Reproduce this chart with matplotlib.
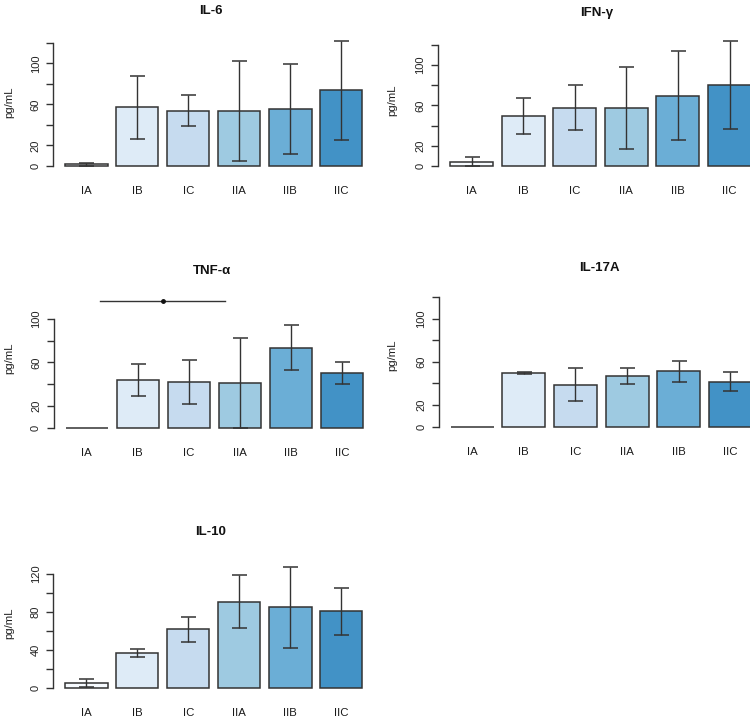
import matplotlib
matplotlib.use("Agg")
import matplotlib.pyplot as plt

plt.rcParams['font.family'] = ['Liberation Sans', 'DejaVu Sans']

groups = ['IA', 'IB', 'IC', 'IIA', 'IIB', 'IIC']
colors = ['#F7FBFF', '#DEEBF7', '#C6DBEF', '#9ECAE1', '#6BAED6', '#4292C6']

il6_mean = [1.6, 57.0, 53.7, 53.7, 55.7, 73.8]
il6_sd = [1.3, 30.5, 15.0, 49.0, 44.0, 48.0]
ifng_mean = [4.3, 49.3, 57.6, 57.6, 69.4, 80.6]
ifng_sd = [4.5, 17.6, 22.2, 40.8, 44.0, 43.6]
tnf_mean = [0.0, 44.0, 41.8, 40.9, 73.8, 50.2]
tnf_sd = [0.0, 15.0, 20.5, 41.5, 21.2, 10.2]
il17_mean = [0.0, 49.8, 38.8, 47.1, 51.4, 41.5]
il17_sd = [0.0, 0.6, 15.3, 7.6, 9.7, 9.0]
il10_mean = [4.9, 36.1, 61.8, 90.9, 84.6, 80.4]
il10_sd = [4.0, 4.2, 13.2, 27.7, 43.2, 24.3]

# significance bar in TNF panel (bar-axis units, value)
tnf_sig_x = [1.0, 3.95]
tnf_sig_y = 117.0
tnf_sig_dot = 2.5

W, H = 750, 719
fig = plt.figure(figsize=(W / 100, H / 100), dpi=100)
fig.patch.set_facecolor('white')

DARK = '#333333'


def panel(title, means, sds, ia_left, y0, pxx, pxy, title_xy, ylab_xy,
          ticks, labels, axis_top):
    xlo, xhi = -0.08, 7.48
    ylo, yhi = -4.8, 140.0
    left = ia_left - (0.2 - xlo) * pxx
    width = (xhi - xlo) * pxx
    bottom = y0 + (0 - ylo) * pxy
    height = (yhi - ylo) * pxy
    ax = fig.add_axes([left / W, 1 - bottom / H, width / W, height / H])
    ax.set_xlim(xlo, xhi)
    ax.set_ylim(ylo, yhi)
    ax.patch.set_alpha(0)
    xs = [0.7 + 1.2 * i for i in range(len(groups))]
    ax.bar(xs, means, width=1.0, color=colors, edgecolor=DARK, linewidth=1.1,
           zorder=2)
    ex = [x for x, s in zip(xs, sds) if s > 0]
    em = [m for m, s in zip(means, sds) if s > 0]
    es = [s for s in sds if s > 0]
    ax.errorbar(ex, em, yerr=es, fmt='none', ecolor=DARK, elinewidth=1.0,
                capsize=5.4, capthick=1.1, zorder=3)
    for s in ['top', 'right', 'bottom']:
        ax.spines[s].set_visible(False)
    ax.spines['left'].set_bounds(0, axis_top)
    ax.spines['left'].set_color(DARK)
    ax.spines['left'].set_linewidth(1.0)
    ax.set_yticks(ticks)
    ax.set_yticklabels(labels, rotation=90, va='center', fontsize=8,
                       color='#222222')
    ax.tick_params(axis='y', length=5, width=1.0, color=DARK, pad=4)
    ax.set_xticks(xs)
    ax.set_xticklabels(groups, fontsize=8.2, color='#1a1a1a')
    ax.tick_params(axis='x', length=0, pad=11)
    fig.text(title_xy[0] / W, 1 - title_xy[1] / H, title, ha='center',
             va='center', fontsize=9.5, fontweight='bold', color='#111111')
    fig.text(ylab_xy[0] / W, 1 - ylab_xy[1] / H, 'pg/mL', ha='center',
             va='center', rotation=90, fontsize=8.2, color='#222222')
    return ax


t120 = [0, 20, 40, 60, 80, 100, 120]
l120 = ['0', '20', '', '60', '', '100', '']
t100 = [0, 20, 40, 60, 80, 100]
l100 = ['0', '20', '', '60', '', '100']
l10 = ['0', '', '40', '', '80', '', '120']

panel('IL-6', il6_mean, il6_sd, 65.0, 166.0, 42.5, 1.027, (211, 11),
      (9, 102), t120, l120, 120)
panel('IFN-γ', ifng_mean, ifng_sd, 450.0, 166.0, 43.0, 1.01, (597, 13),
      (392, 100), t120, l120, 120)
ax3 = panel('TNF-α', tnf_mean, tnf_sd, 65.5, 427.5, 42.5, 1.084, (212, 271),
            (9, 358), t100, l100, 100)
ax3.plot(tnf_sig_x, [tnf_sig_y, tnf_sig_y], color=DARK, lw=1.0,
         clip_on=False, zorder=4)
ax3.plot([tnf_sig_dot], [tnf_sig_y], 'o', color='#111111', ms=2.5,
         clip_on=False, zorder=5)
panel('IL-17A', il17_mean, il17_sd, 450.7, 426.5, 43.0, 1.077, (599, 268),
      (392, 355), t120, l120, 120)
panel('IL-10', il10_mean, il10_sd, 65.0, 687.7, 42.5, 0.948, (211, 532),
      (9, 623), t120, l10, 120)

fig.savefig('out.png', dpi=100, facecolor='white')
